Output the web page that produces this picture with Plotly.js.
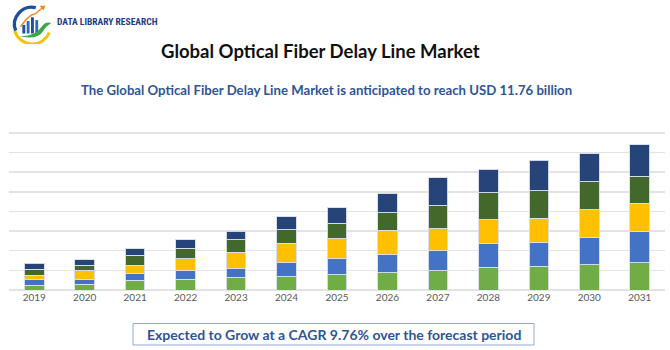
<!DOCTYPE html>
<html>
<head>
<meta charset="utf-8">
<script src="https://cdn.plot.ly/plotly-3.0.1.min.js"></script>
<style>html,body{margin:0;padding:0;background:#fff;}#chart{width:670px;height:350px;}</style>
</head>
<body>
<div id="chart"></div>
<script>
// ---- data (units = gridline steps) ----
const years = ['2019','2020','2021','2022','2023','2024','2025','2026','2027','2028','2029','2030','2031'];
const seg1 = [0.24,0.29,0.49,0.56,0.65,0.68,0.78,0.88,0.99,1.17,1.21,1.29,1.39];
const seg2 = [0.29,0.27,0.37,0.41,0.44,0.70,0.80,0.95,1.00,1.19,1.21,1.39,1.60];
const seg3 = [0.22,0.43,0.39,0.61,0.82,0.99,1.02,1.22,1.12,1.22,1.24,1.41,1.43];
const seg4 = [0.31,0.27,0.51,0.54,0.66,0.71,0.80,0.88,1.19,1.38,1.39,1.41,1.36];
const seg5 = [0.29,0.29,0.34,0.44,0.43,0.66,0.78,0.97,1.41,1.19,1.56,1.43,1.62];
const segments = [seg1, seg2, seg3, seg4, seg5];
const colors = ['#70AD47','#4472C4','#FFC000','#43682B','#264478'];

const titleText = 'Global Optical Fiber Delay Line Market';
const subtitleText = 'The Global Optical Fiber Delay Line Market is anticipated to reach USD 11.76 billion';
const footerText = 'Expected to Grow at a CAGR 9.76% over the forecast period';
const brandText = 'DATA LIBRARY RESEARCH';

// ---- layout geometry ----
const W = 670, H = 350;
const M = {l: 9, r: 5, t: 127, b: 60};
const pw = W - M.l - M.r, ph = H - M.t - M.b;
const px = x => (x - M.l) / pw;
const py = y => (H - M.b - y) / ph;

const traces = segments.map((s, i) => ({
  type: 'bar', x: years, y: s,
  marker: {color: colors[i], line: {color: 'rgba(215,222,235,0.95)', width: 1}},
  hoverinfo: 'skip'
}));

const logoSvg = `<svg xmlns="http://www.w3.org/2000/svg" viewBox="0 0 50 44">
<path d="M8 30 A19 19 0 0 0 44 32" fill="none" stroke="#F4C20D" stroke-width="3"/>
<path d="M9 30 A18 18 0 0 1 30 6" fill="none" stroke="#1F4E9C" stroke-width="3.5"/>
<rect x="16" y="24" width="3" height="9" fill="#1F4E9C"/>
<rect x="20.5" y="20" width="3" height="13" fill="#2E6DB4"/>
<rect x="25" y="16" width="3" height="17" fill="#1F4E9C"/>
<rect x="29.5" y="19" width="3" height="14" fill="#2E6DB4"/>
<path d="M13 36 Q30 36 36 26 Q40 20 46 22 Q40 26 38 30 Q32 40 13 36 Z" fill="#3AA845"/>
<path d="M14 26 L20 18 L25 14 L30 12 L37 6" fill="none" stroke="#F08A24" stroke-width="1.6"/>
<path d="M34 4 L40 4 L38 9 Z" fill="#F08A24"/>
</svg>`;

const layout = {
  width: W, height: H,
  margin: M,
  barmode: 'stack',
  bargap: 0.61,
  showlegend: false,
  paper_bgcolor: '#ffffff',
  plot_bgcolor: '#ffffff',
  font: {family: 'Lato, "Open Sans", sans-serif', color: '#595959'},
  xaxis: {
    type: 'category', showgrid: false, showline: false, zeroline: false,
    ticks: '', tickfont: {size: 10, color: '#595959', family: 'Lato, "Open Sans", sans-serif'},
    fixedrange: true
  },
  yaxis: {
    range: [0, 8.3], dtick: 1, tick0: 0, showticklabels: false,
    showgrid: true, gridcolor: '#e3e3e3', gridwidth: 1.5,
    zeroline: true, zerolinecolor: '#e3e3e3', zerolinewidth: 1.5,
    showline: false, fixedrange: true
  },
  annotations: [
    {xref: 'paper', yref: 'paper', x: px(320), y: py(51), xanchor: 'center', yanchor: 'middle',
     text: '<b>' + titleText + '</b>', showarrow: false,
     font: {size: 18.5, color: '#111111', family: 'Lato, "Open Sans", sans-serif'}},
    {xref: 'paper', yref: 'paper', x: px(326), y: py(90), xanchor: 'center', yanchor: 'middle',
     text: '<b>' + subtitleText + '</b>', showarrow: false,
     font: {size: 13.2, color: '#2F5597', family: 'Lato, "Open Sans", sans-serif'}},
    {xref: 'paper', yref: 'paper', x: px(333.5), y: py(334), xanchor: 'center', yanchor: 'middle',
     text: '<b>' + footerText + '</b>', showarrow: false,
     font: {size: 14, color: '#2F5597', family: 'Lato, "Open Sans", sans-serif'}},
    {xref: 'paper', yref: 'paper', x: px(55), y: py(22), xanchor: 'left', yanchor: 'middle',
     text: '<b>' + brandText + '</b>', showarrow: false,
     font: {size: 9.5, color: '#1F3C88', family: '"Roboto Condensed", "DejaVu Sans Condensed", "Liberation Sans Narrow", Roboto, sans-serif'}}
  ],
  shapes: [
    {type: 'rect', xref: 'paper', yref: 'paper', x0: px(133), x1: px(534), y0: py(345), y1: py(323.5),
     line: {color: '#8FA9D6', width: 1}, fillcolor: 'rgba(0,0,0,0)'}
  ],
  images: [
    {source: 'data:image/svg+xml;charset=utf-8,' + encodeURIComponent(logoSvg),
     xref: 'paper', yref: 'paper', x: px(7), y: py(2), sizex: 48 / pw, sizey: 42 / ph,
     xanchor: 'left', yanchor: 'top', sizing: 'stretch', layer: 'above'}
  ]
};

Plotly.newPlot('chart', traces, layout, {displayModeBar: false, staticPlot: true});
</script>
</body>
</html>
